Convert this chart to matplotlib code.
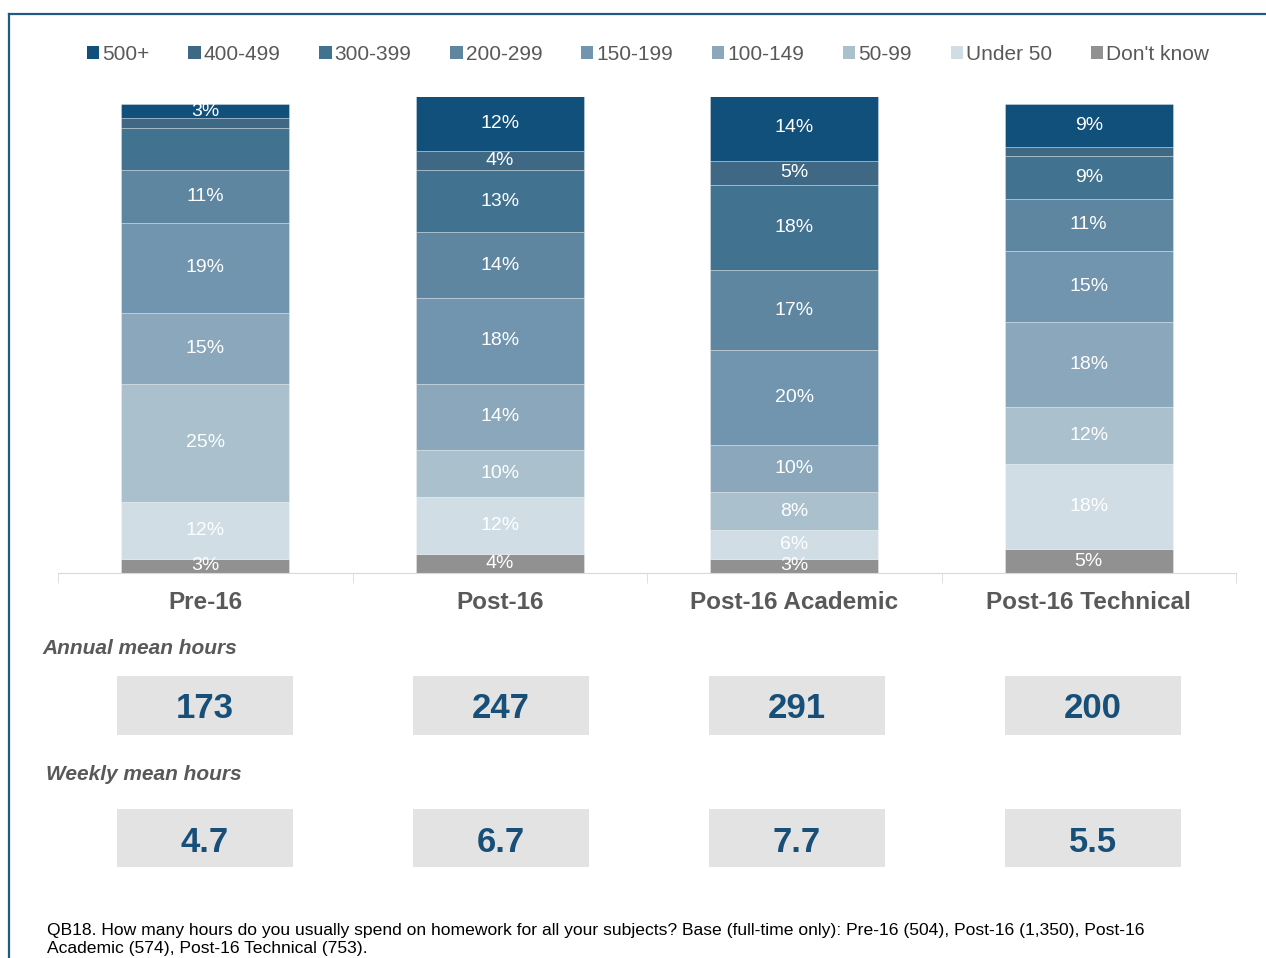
import matplotlib
matplotlib.use("Agg")
import matplotlib.pyplot as plt
from matplotlib.patches import Patch, Rectangle
from matplotlib.lines import Line2D

plt.rcParams['font.family'] = ['Liberation Sans', 'DejaVu Sans']

# data
groups = ["Pre-16", "Post-16", "Post-16 Academic", "Post-16 Technical"]
bands = ["Don't know", "Under 50", "50-99", "100-149", "150-199",
         "200-299", "300-399", "400-499", "500+"]
# percentages per band, bottom -> top, one list per group
pre16 = [3, 12, 25, 15, 19, 11, 9, 2, 3]
post16 = [4, 12, 10, 14, 18, 14, 13, 4, 12]
academic = [3, 6, 8, 10, 20, 17, 18, 5, 14]
technical = [5, 18, 12, 18, 15, 11, 9, 2, 9]
annual_mean = ["173", "247", "291", "200"]
weekly_mean = ["4.7", "6.7", "7.7", "5.5"]
# labels the original chart leaves off (group index, band index)
hidden_labels = [(0, 6), (0, 7), (3, 7)]

colors = ["#919191", "#d0dde5", "#aac1cd", "#8aa7bb", "#7195ae",
          "#5f86a0", "#41728f", "#3e6884", "#11507a"]

W, H = 1266, 958
fig = plt.figure(figsize=(W / 100, H / 100), dpi=100)

ax = fig.add_axes([58 / W, (H - 573) / H, (1236 - 58) / W, (573 - 97) / H])
data = [pre16, post16, academic, technical]
x = list(range(len(groups)))
bottoms = [0] * len(groups)
for b, band in enumerate(bands):
    vals = [d[b] for d in data]
    ax.bar(x, vals, width=0.57, bottom=bottoms, color=colors[b],
           edgecolor=(1, 1, 1, 0.35), linewidth=0.6)
    for g in x:
        if (g, b) in hidden_labels:
            continue
        ax.text(g, bottoms[g] + vals[g] / 2, f"{vals[g]}%", ha="center",
                va="center", color="white", fontsize=14)
    bottoms = [bt + v for bt, v in zip(bottoms, vals)]

ax.set_xlim(-0.5, len(groups) - 0.5)
ax.set_ylim(0, 100.5)
ax.set_yticks([])
for s in ["top", "left", "right"]:
    ax.spines[s].set_visible(False)
ax.spines["bottom"].set_color("#d9d9d9")
ax.set_xticks(x)
ax.set_xticklabels(groups, fontsize=17.5, fontweight="bold", color="#595959")
ax.tick_params(axis="x", which="major", length=0, pad=13)
ax.set_xticks([i - 0.5 for i in range(len(groups) + 1)], minor=True)
ax.tick_params(axis="x", which="minor", length=7, color="#d9d9d9")

# legend (top -> bottom order)
handles = [Patch(facecolor=colors[i]) for i in range(len(bands) - 1, -1, -1)]
labels = [bands[i] for i in range(len(bands) - 1, -1, -1)]
fig.legend(handles, labels, loc="center", bbox_to_anchor=(648 / W, 1 - 54 / H),
           ncol=9, frameon=False, fontsize=15, labelcolor="#595959",
           handlelength=0.6, handleheight=0.6, handletextpad=0.15,
           columnspacing=1.85)

# mean hour boxes
box_ax = fig.add_axes([58 / W, 0, (1236 - 58) / W, 1 - 630 / H])
box_ax.set_xlim(-(205 - 58) / 296, 3 + (1236 - 1093) / 296)
box_ax.set_ylim(H, 630)
box_ax.axis("off")
bw = 176 / 296
for g in x:
    box_ax.add_patch(Rectangle((g - bw / 2, 676), bw, 59, facecolor="#e3e3e3",
                               edgecolor="none"))
    box_ax.text(g, 709, annual_mean[g], ha="center", va="center",
                fontsize=25, fontweight="bold", color="#174f78")
    box_ax.add_patch(Rectangle((g - bw / 2, 809), bw, 58, facecolor="#e3e3e3",
                               edgecolor="none"))
    box_ax.text(g, 842, weekly_mean[g], ha="center", va="center",
                fontsize=25, fontweight="bold", color="#174f78")

fig.text(42 / W, 1 - 648 / H, "Annual mean hours", fontsize=15,
         fontweight="bold", style="italic", color="#595959", va="center")
fig.text(46 / W, 1 - 775 / H, "Weekly mean hours", fontsize=15,
         fontweight="bold", style="italic", color="#595959", va="center")

fig.text(47 / W, 1 - 923 / H,
         "QB18. How many hours do you usually spend on homework for all your "
         "subjects? Base (full-time only): Pre-16 (504), Post-16 (1,350), Post-16\n"
         "Academic (574), Post-16 Technical (753).",
         fontsize=12.6, color="black", va="top", linespacing=1.28)

# frame lines
fig.add_artist(Line2D([9 / W, 1], [1 - 14 / H, 1 - 14 / H], color="#1f5a80", lw=1.6))
fig.add_artist(Line2D([9 / W, 9 / W], [0, 1 - 14 / H], color="#1f5a80", lw=1.6))

fig.savefig("out.png", dpi=100)
